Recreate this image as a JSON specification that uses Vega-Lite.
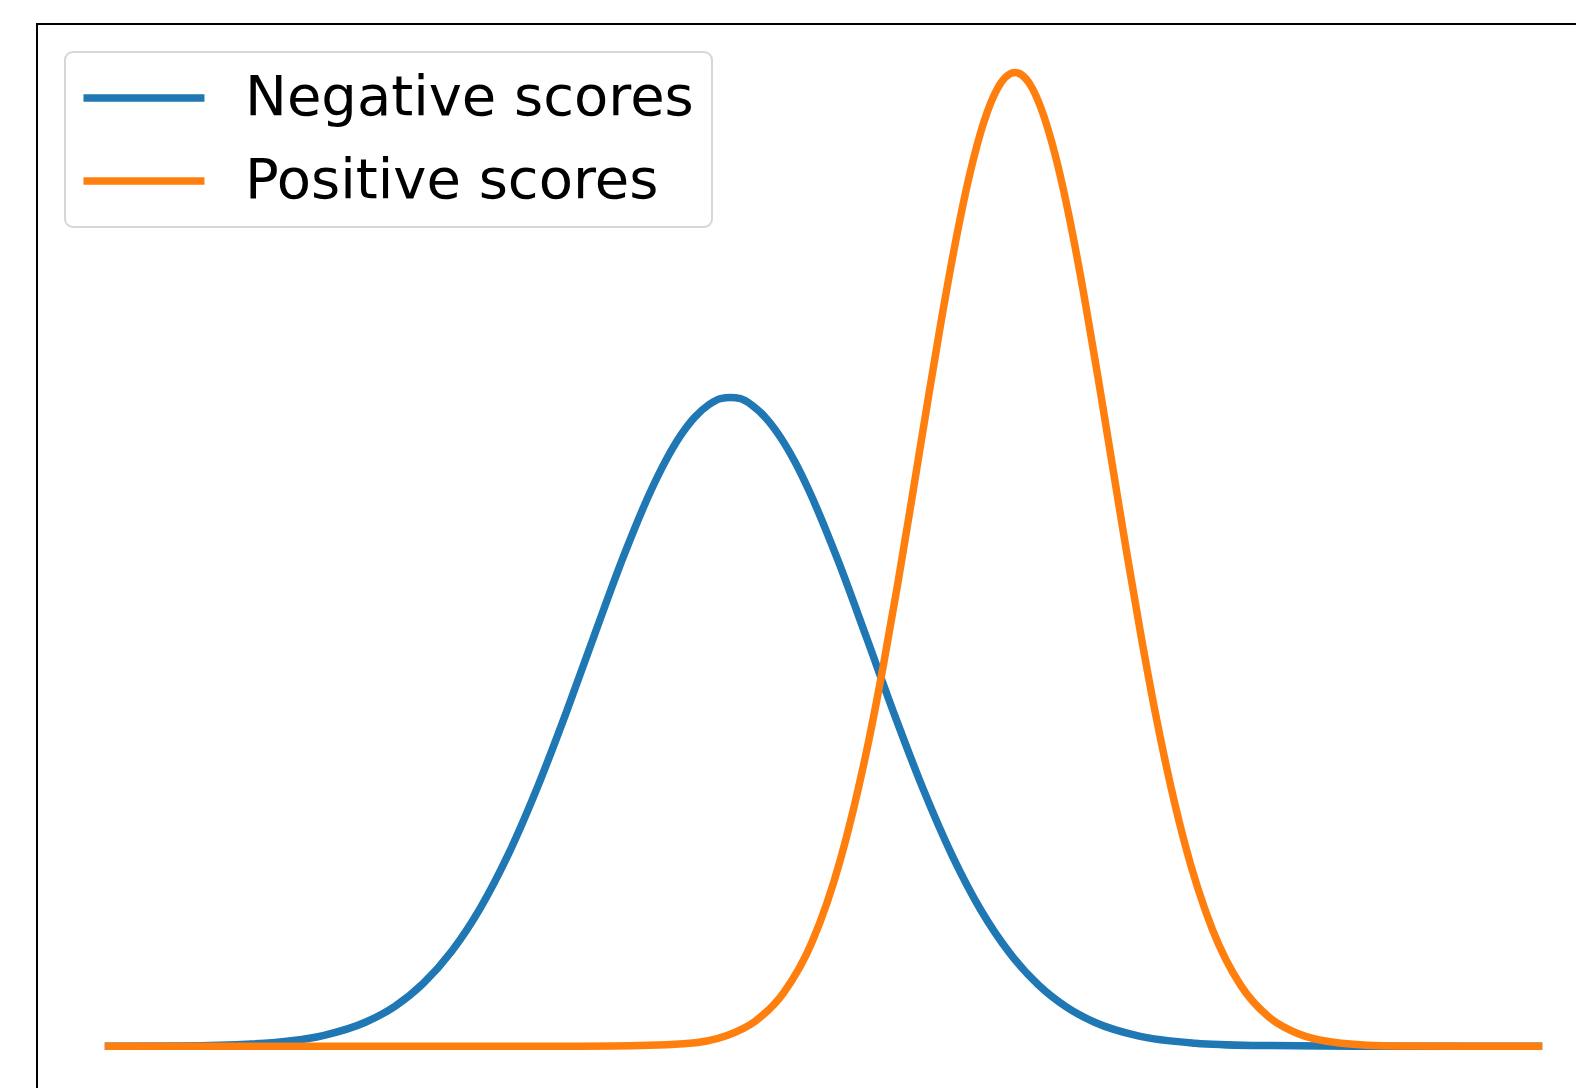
{
  "$schema": "https://vega.github.io/schema/vega-lite/v6.json",
  "width": 1573,
  "height": 1071,
  "autosize": {"type": "none"},
  "padding": {"left": 37, "top": 24, "right": 0, "bottom": 0},
  "background": "white",
  "config": {
    "view": {"stroke": "black", "strokeWidth": 2, "fill": "white"}
  },
  "data": {
    "values": [
      {"series": "Negative scores", "score": 0.0, "density": 0.0},
      {"series": "Negative scores", "score": 0.5, "density": 0.0002},
      {"series": "Negative scores", "score": 1.0, "density": 0.0014},
      {"series": "Negative scores", "score": 1.5, "density": 0.0066},
      {"series": "Negative scores", "score": 1.8, "density": 0.0150},
      {"series": "Negative scores", "score": 2.0, "density": 0.0246},
      {"series": "Negative scores", "score": 2.2, "density": 0.0389},
      {"series": "Negative scores", "score": 2.4, "density": 0.0589},
      {"series": "Negative scores", "score": 2.6, "density": 0.0856},
      {"series": "Negative scores", "score": 2.8, "density": 0.1196},
      {"series": "Negative scores", "score": 3.0, "density": 0.1605},
      {"series": "Negative scores", "score": 3.2, "density": 0.2065},
      {"series": "Negative scores", "score": 3.4, "density": 0.2552},
      {"series": "Negative scores", "score": 3.6, "density": 0.3031},
      {"series": "Negative scores", "score": 3.8, "density": 0.3455},
      {"series": "Negative scores", "score": 3.9, "density": 0.3633},
      {"series": "Negative scores", "score": 4.0, "density": 0.3782},
      {"series": "Negative scores", "score": 4.1, "density": 0.3897},
      {"series": "Negative scores", "score": 4.2, "density": 0.3975},
      {"series": "Negative scores", "score": 4.28, "density": 0.4012},
      {"series": "Negative scores", "score": 4.35, "density": 0.4019},
      {"series": "Negative scores", "score": 4.42, "density": 0.4011},
      {"series": "Negative scores", "score": 4.5, "density": 0.3971},
      {"series": "Negative scores", "score": 4.6, "density": 0.3889},
      {"series": "Negative scores", "score": 4.7, "density": 0.3771},
      {"series": "Negative scores", "score": 4.8, "density": 0.3620},
      {"series": "Negative scores", "score": 4.9, "density": 0.3439},
      {"series": "Negative scores", "score": 5.1, "density": 0.3012},
      {"series": "Negative scores", "score": 5.3, "density": 0.2533},
      {"series": "Negative scores", "score": 5.5, "density": 0.2045},
      {"series": "Negative scores", "score": 5.7, "density": 0.1586},
      {"series": "Negative scores", "score": 5.9, "density": 0.1181},
      {"series": "Negative scores", "score": 6.1, "density": 0.0844},
      {"series": "Negative scores", "score": 6.3, "density": 0.0580},
      {"series": "Negative scores", "score": 6.5, "density": 0.0382},
      {"series": "Negative scores", "score": 6.7, "density": 0.0242},
      {"series": "Negative scores", "score": 6.9, "density": 0.0147},
      {"series": "Negative scores", "score": 7.2, "density": 0.0064},
      {"series": "Negative scores", "score": 7.6, "density": 0.0019},
      {"series": "Negative scores", "score": 8.0, "density": 0.0005},
      {"series": "Negative scores", "score": 8.5, "density": 0.0001},
      {"series": "Negative scores", "score": 9.0, "density": 0.0},
      {"series": "Negative scores", "score": 10.0, "density": 0.0},
      {"series": "Positive scores", "score": 0.0, "density": 0.0},
      {"series": "Positive scores", "score": 2.0, "density": 0.0},
      {"series": "Positive scores", "score": 3.02, "density": 0.0},
      {"series": "Positive scores", "score": 3.52, "density": 0.0001},
      {"series": "Positive scores", "score": 4.02, "density": 0.0015},
      {"series": "Positive scores", "score": 4.32, "density": 0.0065},
      {"series": "Positive scores", "score": 4.52, "density": 0.0154},
      {"series": "Positive scores", "score": 4.72, "density": 0.0330},
      {"series": "Positive scores", "score": 4.92, "density": 0.0646},
      {"series": "Positive scores", "score": 5.12, "density": 0.1162},
      {"series": "Positive scores", "score": 5.32, "density": 0.1908},
      {"series": "Positive scores", "score": 5.42, "density": 0.2366},
      {"series": "Positive scores", "score": 5.52, "density": 0.2869},
      {"series": "Positive scores", "score": 5.62, "density": 0.3403},
      {"series": "Positive scores", "score": 5.72, "density": 0.3947},
      {"series": "Positive scores", "score": 5.82, "density": 0.4477},
      {"series": "Positive scores", "score": 5.92, "density": 0.4967},
      {"series": "Positive scores", "score": 6.02, "density": 0.5391},
      {"series": "Positive scores", "score": 6.12, "density": 0.5721},
      {"series": "Positive scores", "score": 6.22, "density": 0.5938},
      {"series": "Positive scores", "score": 6.34, "density": 0.6031},
      {"series": "Positive scores", "score": 6.46, "density": 0.5934},
      {"series": "Positive scores", "score": 6.52, "density": 0.5813},
      {"series": "Positive scores", "score": 6.62, "density": 0.5521},
      {"series": "Positive scores", "score": 6.72, "density": 0.5129},
      {"series": "Positive scores", "score": 6.82, "density": 0.4660},
      {"series": "Positive scores", "score": 6.92, "density": 0.4141},
      {"series": "Positive scores", "score": 7.02, "density": 0.3600},
      {"series": "Positive scores", "score": 7.12, "density": 0.3059},
      {"series": "Positive scores", "score": 7.22, "density": 0.2545},
      {"series": "Positive scores", "score": 7.32, "density": 0.2067},
      {"series": "Positive scores", "score": 7.52, "density": 0.1277},
      {"series": "Positive scores", "score": 7.72, "density": 0.0723},
      {"series": "Positive scores", "score": 7.92, "density": 0.0374},
      {"series": "Positive scores", "score": 8.12, "density": 0.0177},
      {"series": "Positive scores", "score": 8.32, "density": 0.0077},
      {"series": "Positive scores", "score": 8.62, "density": 0.0019},
      {"series": "Positive scores", "score": 9.0, "density": 0.0002},
      {"series": "Positive scores", "score": 9.5, "density": 0.0},
      {"series": "Positive scores", "score": 10.0, "density": 0.0}
    ]
  },
  "mark": {"type": "line", "strokeWidth": 7.5, "strokeCap": "square", "interpolate": "monotone", "clip": true},
  "encoding": {
    "x": {"field": "score", "type": "quantitative", "scale": {"domain": [-0.5, 10.5], "nice": false, "zero": false}, "axis": null},
    "y": {"field": "density", "type": "quantitative", "scale": {"domain": [-0.0302, 0.6332], "nice": false, "zero": false}, "axis": null},
    "color": {
      "field": "series",
      "type": "nominal",
      "scale": {"domain": ["Negative scores", "Positive scores"], "range": ["#1f77b4", "#ff7f0e"]},
      "legend": {
        "title": null,
        "orient": "none",
        "legendX": 28,
        "legendY": 28,
        "symbolType": "M-1.82,0H6.18",
        "symbolSize": 915,
        "symbolStrokeWidth": 7.5,
        "symbolFillColor": "transparent",
        "labelFont": "DejaVu Sans",
        "labelFontSize": 56,
        "labelColor": "black",
        "labelOffset": 106,
        "labelLimit": 0,
        "padding": 18,
        "rowPadding": 27,
        "strokeColor": "#d6d6d6",
        "fillColor": "white",
        "cornerRadius": 8,
        "encode": {"legend": {"update": {"strokeWidth": {"value": 2}}}}
      }
    }
  }
}
